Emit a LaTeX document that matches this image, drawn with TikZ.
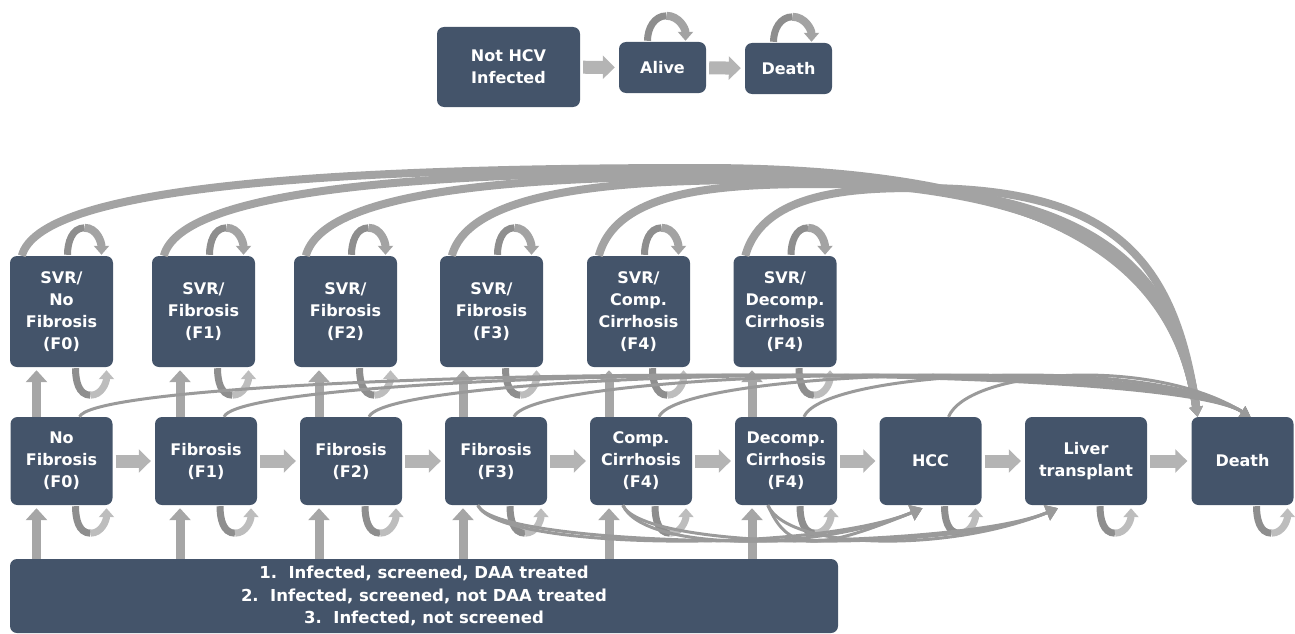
\documentclass[tikz,border=0pt]{standalone}
\usepackage{fontspec}
\setmainfont{DejaVu Sans}
\usetikzlibrary{arrows.meta, calc}

\definecolor{boxblue}{HTML}{44546A}
\definecolor{arrowgray}{HTML}{A6A6A6}
\definecolor{blockgray}{HTML}{B4B4B4}
\definecolor{arcgray}{HTML}{A3A3A3}
\definecolor{thingray}{HTML}{9A9A9A}
\definecolor{loopdk}{HTML}{8E8E8E}
\definecolor{looplt}{HTML}{BDBDBD}

\begin{document}
\begin{tikzpicture}[x=1pt, y=1pt,
    box/.style={fill=boxblue, rounded corners=7pt, text=white, align=center, inner sep=0pt,
        font=\bfseries\fontsize{16}{22}\selectfont},
    mainbox/.style={box, minimum width=102pt, minimum height=88pt},
    svrbox/.style={box, minimum width=103pt, minimum height=111pt},
    blockarrow/.style={draw=blockgray, line width=13pt, -{Triangle[width=23pt,length=12pt]},
        shorten <=3pt, shorten >=4pt},
    uparrow/.style={draw=arrowgray, line width=9pt, -{Triangle[width=21pt,length=12pt]}},
    loopdark/.style={draw=loopdk, line width=7pt},
    looplight/.style={draw=looplt, line width=7pt, -{Triangle[width=15pt,length=9pt]}},
    svrarc/.style={draw=arcgray, line width=8pt, -{Triangle[width=13pt,length=10pt]}},
    deatharc/.style={draw=thingray, line width=3pt, -{Triangle[width=12pt,length=10pt]}},
    lowarc/.style={draw=thingray, line width=3pt, -{Triangle[width=16pt,length=12pt]}}
]
    \useasboundingbox (0,0) rectangle (1295,-634);

    % Not infected chain
    \node[box, minimum width=143pt, minimum height=80pt] (nothcv) at (508.5,-67) {Not HCV\\Infected};
    \node[box, minimum width=87pt, minimum height=51pt] (alive) at (662.5,-67.5) {Alive};
    \node[box, minimum width=87pt, minimum height=51pt] (dead) at (788.5,-68.5) {Death};

    % SVR states
    \node[svrbox] (svr0) at (61.5,-311.5) {SVR/\\No\\Fibrosis\\(F0)};
    \node[svrbox] (svr1) at (203.5,-311.5) {SVR/\\Fibrosis\\(F1)};
    \node[svrbox] (svr2) at (345.5,-311.5) {SVR/\\Fibrosis\\(F2)};
    \node[svrbox] (svr3) at (491.5,-311.5) {SVR/\\Fibrosis\\(F3)};
    \node[svrbox] (svr4) at (638.5,-311.5) {SVR/\\Comp.\\Cirrhosis\\(F4)};
    \node[svrbox] (svr5) at (785,-311.5) {SVR/\\Decomp.\\Cirrhosis\\(F4)};

    % Disease progression
    \node[mainbox] (f0) at (61.5,-461) {No\\Fibrosis\\(F0)};
    \node[mainbox] (f1) at (206,-461) {Fibrosis\\(F1)};
    \node[mainbox] (f2) at (351,-461) {Fibrosis\\(F2)};
    \node[mainbox] (f3) at (496,-461) {Fibrosis\\(F3)};
    \node[mainbox] (cc) at (641,-461) {Comp.\\Cirrhosis\\(F4)};
    \node[mainbox] (dc) at (786,-461) {Decomp.\\Cirrhosis\\(F4)};
    \node[mainbox] (hcc) at (930.5,-461) {HCC};
    \node[mainbox, minimum width=122pt] (lt) at (1086,-461) {Liver\\transplant};
    \node[mainbox] (death) at (1242.5,-461) {Death};

    % Entry cohorts
    \node[box, minimum width=828pt, minimum height=74pt, font=\bfseries\fontsize{16.5}{22.5}\selectfont]
        (infect) at (424,-596)
        {1.~~Infected, screened, DAA treated\\
         2.~~Infected, screened, not DAA treated\\
         3.~~Infected, not screened};

    % Straight transitions
    \foreach \a/\b in {nothcv/alive, alive/dead, f0/f1, f1/f2, f2/f3, f3/cc, cc/dc, dc/hcc, hcc/lt, lt/death}
        \draw[blockarrow] (\a) -- (\b);

    \foreach \n/\s/\dx in {f0/svr0/-25, f1/svr1/-26, f2/svr2/-32, f3/svr3/-33, cc/svr4/-32, dc/svr5/-34} {
        \coordinate (u) at ($(\n.south)+(\dx,0)$);
        \draw[uparrow, shorten >=3pt] (u |- infect.north) -- (u);
        \draw[uparrow, shorten >=3pt] (u |- \n.north) -- (u |- \s.south);
    }

    % Self loops below
    \foreach \n in {svr0, svr1, svr2, svr3, svr4, svr5, f0, f1, f2, f3, cc, dc, hcc, lt, death} {
        \draw[loopdark] ($(\n.south)+(14,-1)$) to[out=-90,in=180] ($(\n.south)+(29,-28)$);
        \draw[looplight] ($(\n.south)+(29,-28)$) to[out=0,in=-90] ($(\n.south)+(45,-3)$);
    }

    % Self loops above
    \foreach \n in {svr0, svr1, svr2, svr3, svr4, svr5} {
        \draw[loopdark] ($(\n.north)+(6,1)$) to[out=90,in=180] ($(\n.north)+(23,28)$);
        \draw[svrarc, -{Triangle[width=15pt,length=9pt]}] ($(\n.north)+(23,28)$) to[out=0,in=90] ($(\n.north)+(40,1)$);
    }
    \foreach \n in {alive, dead} {
        \draw[loopdark] ($(\n.north)+(-15,1)$) to[out=90,in=180] ($(\n.north)+(4,26)$);
        \draw[svrarc, -{Triangle[width=15pt,length=9pt]}] ($(\n.north)+(4,26)$) to[out=0,in=90] ($(\n.north)+(23,1)$);
    }

    % SVR to death
    \foreach \n/\wx/\wy/\cx in {svr0/700/168/300, svr1/720/172/420, svr2/740/176/520,
                               svr3/760/180/620, svr4/820/184/720, svr5/920/188/860}
        \draw[svrarc] ($(\n.north west)+(12,0)$) .. controls ($(\n.north west)+(30,66)$) and (\cx,-\wy) .. (\wx,-\wy)
            .. controls ({\wx+0.7*(1197-\wx)},-\wy) and (1175,-260) .. ($(death.north)+(-45,0)$);

    % Disease-related death
    \foreach \n in {f0, f1, f2, f3, cc, dc, hcc}
        \draw[deatharc] ($(\n.north)+(18,0)$) .. controls ($(\n.north)+(38,47)$) and (1150,-355) .. ($(death.north)+(8,0)$);

    % To HCC and liver transplant
    \foreach \n/\t/\dx in {f3/hcc/-8, cc/hcc/-8, dc/hcc/-8, f3/lt/-28, cc/lt/-28, dc/lt/-28}
        \draw[lowarc] ($(\n.south west)+(33,0)$) .. controls ($(\n.south west)+(53,-45)$) and ($(\t.south)+(\dx-110,-48)$) .. ($(\t.south)+(\dx,-3)$);
\end{tikzpicture}
\end{document}
